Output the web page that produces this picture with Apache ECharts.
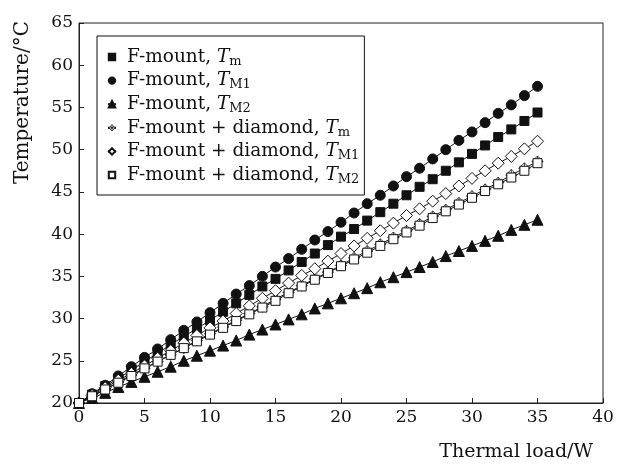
<!DOCTYPE html>
<html>
<head>
<meta charset="utf-8">
<script src="https://cdn.jsdelivr.net/npm/echarts@6/dist/echarts.min.js"></script>
<style>
  html, body { margin: 0; padding: 0; background: #fff; }
  #main { width: 617px; height: 464px; }
</style>
</head>
<body>
<div id="main"></div>
<script>
var loads = [0,1,2,3,4,5,6,7,8,9,10,11,12,13,14,15,16,17,18,19,20,21,22,23,24,25,26,27,28,29,30,31,32,33,34,35];

var fTm  = [20,21.0,22.0,22.9,23.9,24.9,25.9,26.9,27.9,28.8,29.8,30.8,31.8,32.8,33.8,34.7,35.7,36.7,37.7,38.7,39.7,40.6,41.6,42.6,43.6,44.6,45.6,46.5,47.5,48.5,49.5,50.5,51.5,52.4,53.4,54.4];
var fTM1 = [20,21.1,22.1,23.2,24.3,25.4,26.4,27.5,28.6,29.6,30.7,31.8,32.9,33.9,35.0,36.1,37.1,38.2,39.3,40.3,41.4,42.5,43.6,44.6,45.7,46.8,47.8,48.9,50.0,51.1,52.1,53.2,54.3,55.3,56.4,57.5];
var fTM2 = [20,20.6,21.2,21.9,22.5,23.1,23.7,24.3,25.0,25.6,26.2,26.8,27.4,28.1,28.7,29.3,29.9,30.5,31.2,31.8,32.4,33.0,33.6,34.3,34.9,35.5,36.1,36.7,37.4,38.0,38.6,39.2,39.8,40.5,41.1,41.7];
var dTm  = [20,20.8,21.6,22.5,23.3,24.1,24.9,25.7,26.5,27.4,28.2,29.0,29.8,30.6,31.4,32.3,33.1,33.9,34.7,35.5,36.3,37.2,38.0,38.8,39.6,40.4,41.2,42.1,42.9,43.7,44.5,45.3,46.1,47.0,47.8,48.6];
var dTM1 = [20,20.9,21.8,22.7,23.5,24.4,25.3,26.2,27.1,28.0,28.9,29.7,30.6,31.5,32.4,33.3,34.2,35.1,35.9,36.8,37.7,38.6,39.5,40.4,41.3,42.2,43.0,43.9,44.8,45.7,46.6,47.5,48.4,49.2,50.1,51.0];
var dTM2 = [20,20.8,21.6,22.4,23.2,24.1,24.9,25.7,26.5,27.3,28.1,28.9,29.7,30.5,31.3,32.1,33.0,33.8,34.6,35.4,36.2,37.0,37.8,38.6,39.4,40.2,41.0,41.9,42.7,43.5,44.3,45.1,45.9,46.7,47.5,48.4];

var names = ['F-mount, Tm', 'F-mount, TM1', 'F-mount, TM2',
             'F-mount + diamond, Tm', 'F-mount + diamond, TM1', 'F-mount + diamond, TM2'];
var labels = {
    'F-mount, Tm': '{n|F-mount, }{i|T}{s|m}',
    'F-mount, TM1': '{n|F-mount, }{i|T}{s|M1}',
    'F-mount, TM2': '{n|F-mount, }{i|T}{s|M2}',
    'F-mount + diamond, Tm': '{n|F-mount + diamond, }{i|T}{s|m}',
    'F-mount + diamond, TM1': '{n|F-mount + diamond, }{i|T}{s|M1}',
    'F-mount + diamond, TM2': '{n|F-mount + diamond, }{i|T}{s|M2}'
};

var FONT = 'DejaVu Serif';
// diamond with a lattice inside (hatched marker)
var crossed = 'path://M5,0 L10,5 L5,10 L0,5 Z M2.5,2.5 L7.5,7.5 M7.5,2.5 L2.5,7.5 M5,0 L5,10 M0,5 L10,5';

function pairs(ys) {
    return loads.map(function (x, i) { return [x, ys[i]]; });
}

function mk(name, ys, symbol, size, fill, bw) {
    return {
        name: name,
        type: 'line',
        data: pairs(ys),
        symbol: symbol,
        symbolSize: size,
        showAllSymbol: true,
        lineStyle: { color: '#111', width: 1 },
        itemStyle: { color: fill, borderColor: '#111', borderWidth: bw || 1 },
        emphasis: { disabled: true },
        animation: false
    };
}

var legendData = names.map(function (n, i) {
    if (i === 3) {
        return { name: n, itemStyle: { color: '#fff', borderColor: '#111', borderWidth: 0.7 } };
    }
    return { name: n };
});

var myChart = echarts.init(document.getElementById('main'));
var option = {
    backgroundColor: '#fff',
    textStyle: { fontFamily: FONT },
    grid: {
        left: 79, right: 14, top: 23, bottom: 61,
        show: true, borderColor: '#222', borderWidth: 1
    },
    legend: {
        data: legendData,
        orient: 'vertical',
        left: 97, top: 36,
        padding: [10, 5, 9, 10],
        itemGap: 1.6,
        itemWidth: 8, itemHeight: 8,
        borderColor: '#111', borderWidth: 1,
        formatter: function (n) { return labels[n]; },
        textStyle: {
            fontFamily: FONT,
            rich: {
                n: { fontFamily: FONT, fontSize: 18.5, color: '#111', lineHeight: 22, padding: [0, 0, 0, 6] },
                i: { fontFamily: FONT, fontSize: 18.5, fontStyle: 'italic', color: '#111', lineHeight: 22 },
                s: { fontFamily: FONT, fontSize: 13, color: '#111', verticalAlign: 'bottom', lineHeight: 13, padding: [9, 0, 0, 0] }
            }
        }
    },
    xAxis: {
        type: 'value',
        min: 0, max: 40, interval: 5,
        name: 'Thermal load/W',
        nameLocation: 'end',
        nameGap: -10,
        nameTextStyle: { fontFamily: FONT, fontSize: 19, color: '#111', align: 'right', verticalAlign: 'top', padding: [40, 0, 0, 0] },
        axisLine: { lineStyle: { color: '#222' } },
        axisTick: { inside: true, length: 5, lineStyle: { color: '#222' } },
        axisLabel: { fontFamily: FONT, fontSize: 17, color: '#111', margin: 6 },
        splitLine: { show: false }
    },
    yAxis: {
        type: 'value',
        min: 20, max: 65, interval: 5,
        name: 'Temperature/°C',
        nameLocation: 'end',
        nameRotate: 90,
        nameGap: 2,
        nameTextStyle: { fontFamily: FONT, fontSize: 20, color: '#111', align: 'right', verticalAlign: 'bottom', padding: [0, 0, 46, 0] },
        axisLine: { show: true, lineStyle: { color: '#222' } },
        axisTick: { show: true, inside: true, length: 5, lineStyle: { color: '#222' } },
        axisLabel: { fontFamily: FONT, fontSize: 17, color: '#111', margin: 6 },
        splitLine: { show: false }
    },
    series: [
        mk(names[0], fTm, 'rect', 9, '#111'),
        mk(names[1], fTM1, 'circle', 10, '#111'),
        mk(names[2], fTM2, 'triangle', 11, '#111'),
        mk(names[3], dTm, crossed, 11, '#fff', 0.8),
        mk(names[4], dTM1, 'diamond', 12, '#fff'),
        mk(names[5], dTM2, 'rect', 9, '#fff')
    ]
};
myChart.setOption(option);
</script>
</body>
</html>
